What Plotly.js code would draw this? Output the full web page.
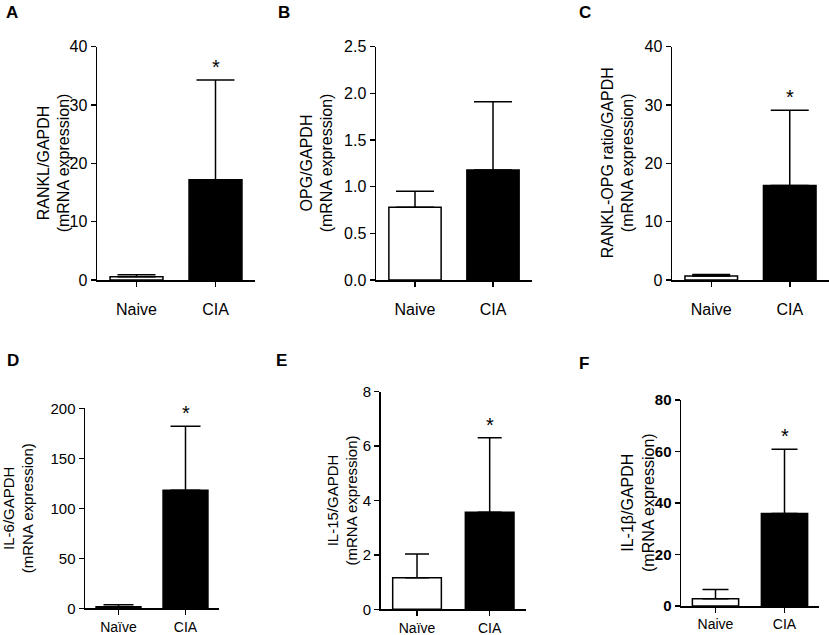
<!DOCTYPE html>
<html>
<head>
<meta charset="utf-8">
<script src="https://cdn.plot.ly/plotly-3.0.1.min.js"></script>
<style>
  html, body { margin: 0; padding: 0; background: #fff; }
  #chart { width: 829px; height: 635px; }
</style>
</head>
<body>
<div id="chart"></div>
<script>
// groups on the x axis
const groups = ['Naive', 'CIA'];
const groupsUml = ['Naïve', 'CIA'];

// means and upper SEM
const rankl = [0.57, 17.2];
const ranklErr = [0.33, 17.1];
const opg = [0.78, 1.18];
const opgErr = [0.17, 0.73];
const ratio = [0.69, 16.2];
const ratioErr = [0.27, 12.9];
const il6 = [1.5, 118];
const il6Err = [2.0, 64];
const il15 = [1.16, 3.57];
const il15Err = [0.87, 2.74];
const il1b = [2.8, 35.9];
const il1bErr = [3.6, 25.0];

const W = 829, H = 635;
const px = v => v / W;
const py = v => 1 - v / H;
const FONT = 'Arial, "Liberation Sans", sans-serif';

const panels = [
  { n: 1, letter: 'A', cats: groups, y: rankl, err: ranklErr, ymax: 40, dtick: 10, fmt: '',
    title: 'RANKL/GAPDH<br>(mRNA expression)', sig: true,
    dx: [97, 255], dy: [46.7, 280], cap: 19, fs: 16, yfs: 16, tfs: 16, titleX: 54, lx: 4, ly: 12, bold: false, stand: 9 },
  { n: 2, letter: 'B', cats: groups, y: opg, err: opgErr, ymax: 2.5, dtick: 0.5, fmt: '.1f',
    title: 'OPG/GAPDH<br>(mRNA expression)', sig: false,
    dx: [376, 532], dy: [46.7, 280], cap: 19, fs: 16, yfs: 16, tfs: 16, titleX: 317, lx: 276, ly: 12, bold: false, stand: 9 },
  { n: 3, letter: 'C', cats: groups, y: ratio, err: ratioErr, ymax: 40, dtick: 10, fmt: '',
    title: 'RANKL-OPG ratio/GAPDH<br>(mRNA expression)', sig: true,
    dx: [672, 829], dy: [46.7, 280], cap: 19, fs: 16, yfs: 16, tfs: 16, titleX: 618, lx: 577, ly: 13, bold: false, stand: 9 },
  { n: 4, letter: 'D', cats: groupsUml, y: il6, err: il6Err, ymax: 200, dtick: 50, fmt: '',
    title: 'IL-6/GAPDH<br>(mRNA expression)', sig: true,
    dx: [85, 219], dy: [408.3, 608.3], cap: 15, fs: 14, yfs: 15, tfs: 15, titleX: 18, lx: 5, ly: 360, bold: false, stand: 0 },
  { n: 5, letter: 'E', cats: groupsUml, y: il15, err: il15Err, ymax: 8, dtick: 2, fmt: '',
    title: 'IL-15/GAPDH<br>(mRNA expression)', sig: true,
    dx: [380.7, 526], dy: [391.7, 609.3], cap: 12, fs: 14, yfs: 15, tfs: 15, titleX: 342, lx: 274, ly: 360, bold: false, stand: 0 },
  { n: 6, letter: 'F', cats: groups, y: il1b, err: il1bErr, ymax: 80, dtick: 20, fmt: '',
    title: 'IL-1β/GAPDH<br>(mRNA expression)', sig: true,
    dx: [681, 819], dy: [400, 606], cap: 13, fs: 14, yfs: 15, tfs: 16, titleX: 638, lx: 577, ly: 363, bold: true, stand: 0 }
];

const data = [];
const layout = {
  width: W, height: H,
  margin: { l: 0, r: 0, t: 0, b: 0 },
  paper_bgcolor: '#fff', plot_bgcolor: 'rgba(0,0,0,0)',
  font: { family: FONT, color: '#000' },
  showlegend: false,
  bargap: 0,
  annotations: []
};

panels.forEach(p => {
  const xa = 'xaxis' + (p.n === 1 ? '' : p.n);
  const ya = 'yaxis' + (p.n === 1 ? '' : p.n);
  const xr = 'x' + (p.n === 1 ? '' : p.n);
  const yr = 'y' + (p.n === 1 ? '' : p.n);

  data.push({
    type: 'bar', x: p.cats, y: p.y, xaxis: xr, yaxis: yr,
    width: 0.67,
    marker: { color: ['#ffffff', '#000000'], line: { color: '#000', width: 1.5 } },
    error_y: { type: 'data', symmetric: false, array: p.err, arrayminus: [0, 0],
               color: '#000', thickness: 1.5, width: p.cap },
    hoverinfo: 'skip'
  });

  layout[xa] = {
    domain: [px(p.dx[0]), px(p.dx[1])], anchor: yr,
    type: 'category', range: [-0.5, 1.5],
    showline: true, linecolor: '#000', linewidth: 1.5,
    ticks: 'outside', ticklen: 5, tickwidth: 1.5, tickcolor: '#000',
    ticklabelstandoff: p.stand,
    tickfont: { size: p.fs, family: FONT, color: '#000' },
    showgrid: false, zeroline: false, fixedrange: true
  };
  layout[ya] = {
    domain: [py(p.dy[1]), py(p.dy[0])], anchor: xr,
    range: [0, p.ymax], dtick: p.dtick, tick0: 0, tickformat: p.fmt,
    showline: true, linecolor: '#000', linewidth: 1.5,
    ticks: 'outside', ticklen: 5, tickwidth: 1.5, tickcolor: '#000',
    tickfont: { size: p.yfs, family: FONT, color: '#000', weight: p.bold ? 'bold' : 'normal' },
    showgrid: false, zeroline: false, fixedrange: true
  };

  // y title
  layout.annotations.push({
    xref: 'paper', yref: 'paper',
    x: px(p.titleX), y: py((p.dy[0] + p.dy[1]) / 2),
    xanchor: 'center', yanchor: 'middle',
    text: p.title, textangle: -90, showarrow: false,
    font: { size: p.tfs, family: FONT, color: '#000' }
  });
  // panel letter
  layout.annotations.push({
    xref: 'paper', yref: 'paper',
    x: px(p.lx), y: py(p.ly), xanchor: 'left', yanchor: 'middle',
    text: '<b>' + p.letter + '</b>', showarrow: false,
    font: { size: 17, family: FONT, color: '#000' }
  });
  // significance mark over CIA
  if (p.sig) {
    layout.annotations.push({
      xref: xr, yref: yr, x: p.cats[1], y: p.y[1] + p.err[1],
      xanchor: 'center', yanchor: 'bottom', yshift: 0,
      text: '*', showarrow: false,
      font: { size: 20, family: FONT, color: '#000' }
    });
  }
});

Plotly.newPlot('chart', data, layout, { staticPlot: true });
</script>
</body>
</html>
